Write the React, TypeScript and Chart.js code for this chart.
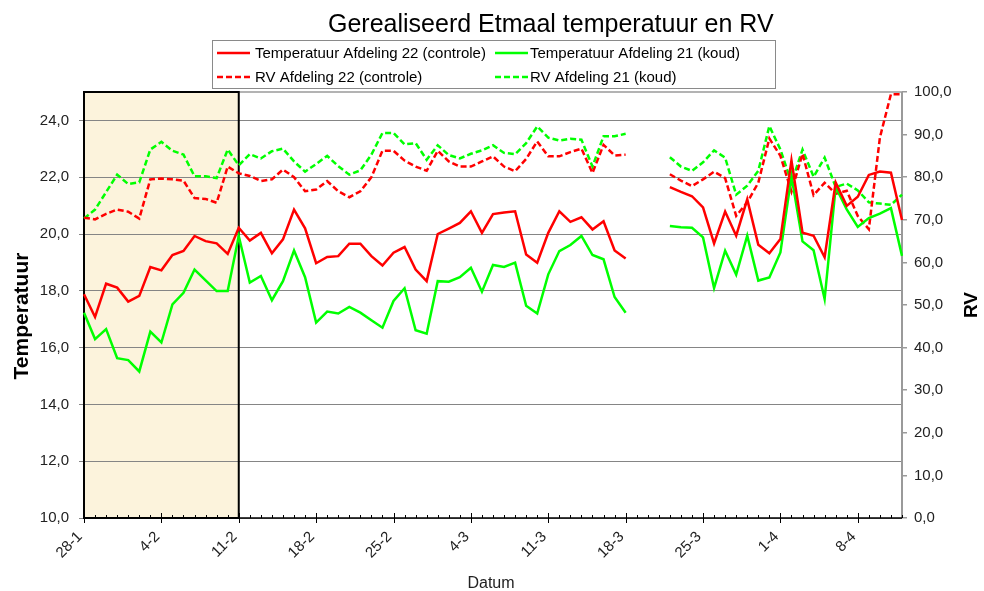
import { useEffect, useRef } from 'react';
import { Chart, registerables } from 'chart.js';
Chart.register(...registerables);

const dates = [
  '28-1', '29-1', '30-1', '31-1',
  '1-2', '2-2', '3-2', '4-2', '5-2', '6-2', '7-2', '8-2', '9-2', '10-2', '11-2', '12-2', '13-2', '14-2',
  '15-2', '16-2', '17-2', '18-2', '19-2', '20-2', '21-2', '22-2', '23-2', '24-2', '25-2', '26-2', '27-2', '28-2',
  '1-3', '2-3', '3-3', '4-3', '5-3', '6-3', '7-3', '8-3', '9-3', '10-3', '11-3', '12-3', '13-3', '14-3', '15-3',
  '16-3', '17-3', '18-3', '19-3', '20-3', '21-3', '22-3', '23-3', '24-3', '25-3', '26-3', '27-3', '28-3', '29-3',
  '30-3', '31-3',
  '1-4', '2-4', '3-4', '4-4', '5-4', '6-4', '7-4', '8-4', '9-4', '10-4', '11-4', '12-4',
];

const weekLabels = ['28-1', '4-2', '11-2', '18-2', '25-2', '4-3', '11-3', '18-3', '25-3', '1-4', '8-4'];

const temp22 = [
  17.88, 17.08, 18.25, 18.11, 17.62, 17.82, 18.84, 18.72, 19.26, 19.40,
  19.93, 19.75, 19.67, 19.30, 20.22, 19.77, 20.04, 19.32, 19.81, 20.86,
  20.20, 18.97, 19.19, 19.22, 19.66, 19.66, 19.22, 18.89, 19.34, 19.54,
  18.75, 18.34, 20.00, 20.19, 20.39, 20.80, 20.04, 20.70, 20.76, 20.80,
  19.28, 18.99, 20.04, 20.80, 20.43, 20.59, 20.16, 20.45, 19.42, 19.14,
  null, null, null, 21.65, 21.48, 21.33, 20.94, 19.67, 20.79, 19.94,
  21.22, 19.62, 19.32, 19.82, 22.59, 20.05, 19.94, 19.18, 21.81, 20.99,
  21.31, 22.08, 22.20, 22.16, 20.49,
];

const temp21 = [
  17.23, 16.30, 16.65, 15.63, 15.56, 15.16, 16.56, 16.18, 17.52, 17.93,
  18.75, 18.37, 17.99, 17.99, 19.93, 18.29, 18.52, 17.67, 18.34, 19.42,
  18.48, 16.88, 17.27, 17.20, 17.43, 17.23, 16.96, 16.70, 17.64, 18.09,
  16.61, 16.49, 18.34, 18.32, 18.48, 18.81, 17.97, 18.91, 18.84, 18.99,
  17.47, 17.20, 18.58, 19.40, 19.61, 19.93, 19.26, 19.11, 17.78, 17.23,
  null, null, null, 20.28, 20.24, 20.22, 19.88, 18.10, 19.41, 18.57,
  19.94, 18.36, 18.47, 19.35, 22.04, 19.74, 19.43, 17.71, 21.66, 20.87,
  20.25, 20.56, 20.72, 20.91, 19.23,
];

const rv22 = [
  70.5, 70.1, 71.4, 72.4, 71.9, 70.3, 79.5, 79.7, 79.5, 79.2,
  75.1, 74.9, 74.0, 82.5, 80.9, 80.3, 79.1, 79.5, 81.8, 80.0,
  76.7, 77.1, 79.1, 76.7, 75.3, 76.7, 80.0, 86.2, 86.2, 83.9,
  82.5, 81.5, 86.2, 83.7, 82.5, 82.5, 83.7, 84.9, 82.5, 81.4,
  84.3, 88.4, 84.9, 84.9, 85.9, 86.7, 81.0, 87.6, 85.1, 85.3,
  null, null, null, 80.7, 79.2, 77.9, 79.5, 81.3, 79.8, 70.9,
  74.1, 78.7, 89.1, 85.0, 76.6, 85.5, 75.8, 78.7, 76.1, 76.8,
  70.9, 67.8, 89.3, 99.5, 99.5,
];

const rv21 = [
  70.3, 72.4, 76.5, 80.6, 78.4, 78.8, 86.5, 88.3, 86.2, 85.3,
  80.2, 80.2, 79.8, 86.5, 82.8, 85.4, 84.4, 86.1, 86.7, 83.7,
  81.3, 83.1, 85.0, 82.6, 80.6, 81.6, 85.3, 90.4, 90.4, 87.7,
  88.0, 84.1, 87.5, 85.2, 84.4, 85.5, 86.3, 87.5, 85.7, 85.4,
  88.0, 91.9, 89.3, 88.6, 89.0, 88.8, 82.5, 89.6, 89.6, 90.2,
  null, null, null, 84.7, 82.5, 81.5, 83.5, 86.3, 84.6, 75.9,
  78.0, 81.5, 92.0, 86.5, 78.7, 86.5, 80.1, 84.6, 77.7, 78.5,
  76.9, 74.1, 73.8, 73.5, 75.9,
];

const tempTicks = [10, 12, 14, 16, 18, 20, 22, 24];
const rvTicks = [0, 10, 20, 30, 40, 50, 60, 70, 80, 90, 100];
const shadedFrom = '28-1';
const shadedTo = '11-2';

const titleText = 'Gerealiseerd Etmaal temperatuur en RV';
const legendItems = [
  { text: 'Temperatuur Afdeling 22 (controle)', color: '#ff0000', dash: false },
  { text: 'Temperatuur Afdeling 21 (koud)', color: '#00ff00', dash: false },
  { text: 'RV Afdeling 22 (controle)', color: '#ff0000', dash: true },
  { text: 'RV Afdeling 21 (koud)', color: '#00ff00', dash: true },
];

const FONT = '"Liberation Sans", Arial, sans-serif';
const RED = '#ff0000';
const GREEN = '#00ff00';
const DASH = [6, 3];

const fmt = (v: number) => v.toFixed(1).replace('.', ',');

const decor = {
  id: 'decor',
  beforeDraw(chart: any) {
    const { ctx, chartArea: a, scales } = chart;
    const x0 = scales.x.getPixelForValue(dates.indexOf(shadedFrom));
    const x1 = scales.x.getPixelForValue(dates.indexOf(shadedTo));
    ctx.save();
    ctx.fillStyle = '#fcf3dc';
    ctx.fillRect(x0, a.top, x1 - x0, a.bottom - a.top);
    ctx.restore();
  },
  beforeDatasetsDraw(chart: any) {
    const { ctx, chartArea: a, scales } = chart;
    const xs = scales.x;
    ctx.save();
    ctx.strokeStyle = '#9a9a9a';
    ctx.lineWidth = 1.5;
    ctx.beginPath();
    ctx.moveTo(a.left, a.top);
    ctx.lineTo(a.right, a.top);
    ctx.stroke();
    ctx.lineWidth = 2;
    ctx.beginPath();
    ctx.moveTo(a.right, a.top);
    ctx.lineTo(a.right, a.bottom);
    ctx.stroke();
    const x0 = xs.getPixelForValue(dates.indexOf(shadedFrom));
    const x1 = xs.getPixelForValue(dates.indexOf(shadedTo));
    ctx.strokeStyle = '#000';
    ctx.lineWidth = 2;
    ctx.strokeRect(x0, a.top, x1 - x0, a.bottom - a.top);
    ctx.lineWidth = 1.5;
    ctx.beginPath();
    ctx.moveTo(a.left, a.bottom);
    ctx.lineTo(a.right, a.bottom);
    ctx.stroke();
    ctx.lineWidth = 1;
    for (let i = 0; i < dates.length; i++) {
      const px = Math.round(xs.getPixelForValue(i)) + 0.5;
      const major = weekLabels.includes(dates[i]);
      ctx.beginPath();
      ctx.moveTo(px, major ? a.bottom - 5 : a.bottom - 3);
      ctx.lineTo(px, major ? a.bottom + 5 : a.bottom);
      ctx.stroke();
    }
    ctx.restore();
  },
  afterDraw(chart: any) {
    const { ctx } = chart;
    ctx.save();
    ctx.fillStyle = '#000';
    ctx.font = `25px ${FONT}`;
    ctx.textAlign = 'left';
    ctx.textBaseline = 'alphabetic';
    ctx.fillText(titleText, 328, 32);
    ctx.strokeStyle = '#8a8a8a';
    ctx.lineWidth = 1;
    ctx.strokeRect(212.5, 40.5, 563, 48);
    ctx.font = `15px ${FONT}`;
    const pos = [
      { lx: 217, tx: 255, y: 53 },
      { lx: 495, tx: 530, y: 53 },
      { lx: 217, tx: 255, y: 77 },
      { lx: 495, tx: 530, y: 77 },
    ];
    legendItems.forEach((it, i) => {
      const p = pos[i];
      ctx.strokeStyle = it.color;
      ctx.lineWidth = 2.5;
      ctx.setLineDash(it.dash ? DASH : []);
      ctx.beginPath();
      ctx.moveTo(p.lx, p.y);
      ctx.lineTo(p.lx + 33, p.y);
      ctx.stroke();
      ctx.setLineDash([]);
      ctx.fillStyle = '#000';
      ctx.textBaseline = 'middle';
      ctx.fillText(it.text, p.tx, p.y + 0.5);
    });
    ctx.textAlign = 'center';
    ctx.textBaseline = 'middle';
    ctx.font = `bold 21px ${FONT}`;
    ctx.save();
    ctx.translate(22, 316);
    ctx.rotate(-Math.PI / 2);
    ctx.fillText('Temperatuur', 0, 0);
    ctx.restore();
    ctx.font = `bold 19px ${FONT}`;
    ctx.save();
    ctx.translate(972, 305);
    ctx.rotate(-Math.PI / 2);
    ctx.fillText('RV', 0, 0);
    ctx.restore();
    ctx.font = `16px ${FONT}`;
    ctx.textBaseline = 'alphabetic';
    ctx.fillStyle = '#222';
    ctx.fillText('Datum', 491, 588);
    ctx.restore();
  },
};

export default function App() {
  const ref = useRef<HTMLCanvasElement>(null);
  useEffect(() => {
    const chart = new Chart(ref.current as HTMLCanvasElement, {
      type: 'line',
      data: {
        labels: dates,
        datasets: [
          { label: legendItems[0].text, data: temp22 as any, borderColor: RED, backgroundColor: RED, yAxisID: 'y', borderWidth: 2.5, pointRadius: 0, tension: 0 },
          { label: legendItems[1].text, data: temp21 as any, borderColor: GREEN, backgroundColor: GREEN, yAxisID: 'y', borderWidth: 2.5, pointRadius: 0, tension: 0 },
          { label: legendItems[2].text, data: rv22 as any, borderColor: RED, backgroundColor: RED, yAxisID: 'y1', borderWidth: 2.5, borderDash: DASH, pointRadius: 0, tension: 0 },
          { label: legendItems[3].text, data: rv21 as any, borderColor: GREEN, backgroundColor: GREEN, yAxisID: 'y1', borderWidth: 2.5, borderDash: DASH, pointRadius: 0, tension: 0 },
        ],
      },
      options: {
        animation: false,
        responsive: true,
        maintainAspectRatio: false,
        layout: { padding: { top: 92, left: 0, right: 0, bottom: 0 } },
        plugins: {
          legend: { display: false },
          title: { display: false },
          tooltip: { enabled: false },
        },
        scales: {
          x: {
            type: 'category',
            offset: false,
            grid: { display: false },
            border: { display: false },
            ticks: {
              autoSkip: false,
              minRotation: 45,
              maxRotation: 45,
              padding: 2,
              labelOffset: -4,
              color: '#222',
              font: { family: FONT, size: 15 },
              callback: (_v: any, i: number) => (weekLabels.includes(dates[i]) ? dates[i] : ''),
            },
            afterFit: (s: any) => { s.height = 73; },
          },
          y: {
            position: 'left',
            min: 10,
            max: 25,
            afterBuildTicks: (s: any) => { s.ticks = tempTicks.map((v) => ({ value: v })); },
            grid: { color: '#858585', lineWidth: 1, tickLength: 5 },
            border: { display: false },
            ticks: { padding: 10, color: '#222', font: { family: FONT, size: 15 }, callback: (v: any) => fmt(Number(v)) },
            afterFit: (s: any) => { s.width = 84; },
          },
          y1: {
            position: 'right',
            min: 0,
            max: 100,
            afterBuildTicks: (s: any) => { s.ticks = rvTicks.map((v) => ({ value: v })); },
            grid: { drawOnChartArea: false, color: '#9a9a9a', lineWidth: 1.5, tickLength: 5 },
            border: { display: false },
            ticks: { padding: 7, color: '#222', font: { family: FONT, size: 15 }, callback: (v: any) => fmt(Number(v)) },
            afterFit: (s: any) => { s.width = 82; },
          },
        },
      } as any,
      plugins: [decor],
    });
    return () => chart.destroy();
  }, []);
  return (
    <div style={{ position: 'fixed', left: 0, top: 0, width: 984, height: 591, background: '#fff' }}>
      <canvas ref={ref} />
    </div>
  );
}
